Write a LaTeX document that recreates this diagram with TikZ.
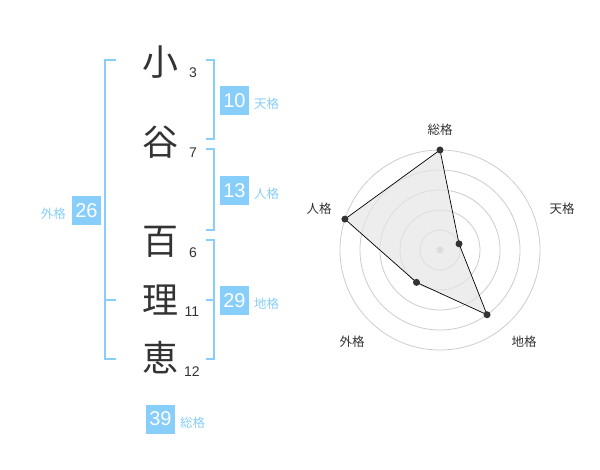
\documentclass[tikz,border=0pt]{standalone}
\usepackage{fontspec}
\newfontfamily\jp{Noto Sans CJK JP}
\newfontfamily\lat{Liberation Sans}
\definecolor{kblue}{HTML}{87CEFA}
\definecolor{ktext}{HTML}{333333}
\definecolor{kgrid}{HTML}{CCCCCC}
\begin{document}
\begin{tikzpicture}[x=1pt,y=-1pt,
  kanji/.style={inner sep=0pt,text=ktext,font=\jp\fontsize{36}{36}\selectfont},
  stroke/.style={inner sep=0pt,text=ktext,font=\lat\fontsize{14}{14}\selectfont},
  valbox/.style={fill=kblue,text=white,minimum width=29pt,minimum height=29pt,inner sep=0pt,font=\lat\fontsize{20}{20}\selectfont},
  kaku/.style={inner sep=0pt,text=kblue,font=\jp\fontsize{12.5}{12.5}\selectfont},
  brk/.style={draw=kblue,line width=2pt},
  rlabel/.style={inner sep=0pt,text=ktext,font=\jp\fontsize{12.5}{12.5}\selectfont},
  gridc/.style={draw=kgrid,line width=0.8pt},
  pt/.style={circle,fill=ktext,inner sep=0pt,minimum size=7pt}
]
\useasboundingbox (0,0) rectangle (600,470);
% characters
\node[kanji] (c1) at (160,62) {小};
\node[kanji] (c2) at (160,142) {谷};
\node[kanji] (c3) at (160,242) {百};
\node[kanji] (c4) at (160,300) {理};
\node[kanji] (c5) at (160,358) {恵};
\node[stroke] (s1) at (193,73) {3};
\node[stroke] (s2) at (193,153) {7};
\node[stroke] (s3) at (193,253) {6};
\node[stroke] (s4) at (192,312) {11};
\node[stroke] (s5) at (192,372) {12};
% brackets
\draw[brk] (116,60) -- (105,60) -- (105,359) -- (116,359);
\draw[brk] (105,300) -- (116,300);
\draw[brk] (206,60) -- (214,60) -- (214,139) -- (206,139);
\draw[brk] (206,149) -- (214,149) -- (214,230) -- (206,230);
\draw[brk] (206,240) -- (214,240) -- (214,359) -- (206,359);
\draw[brk] (206,300) -- (214,300);
% values
\node[valbox] (v1) at (234.5,100.5) {10};
\node[kaku,anchor=west] (k1) at (254,104) {天格};
\node[valbox] (v2) at (234.5,190.5) {13};
\node[kaku,anchor=west] (k2) at (254,194) {人格};
\node[valbox] (v3) at (234.5,300.5) {29};
\node[kaku,anchor=west] (k3) at (254,304) {地格};
\node[valbox] (v4) at (86.5,210.5) {26};
\node[kaku,anchor=east] (k4) at (66,214) {外格};
\node[valbox] (v5) at (160.5,419) {39};
\node[kaku,anchor=west] (k5) at (180,423) {総格};
% radar
\coordinate (O) at (440,250);
\foreach \r in {20,40,60,80,100} \draw[gridc] (O) circle (\r);
\node[circle,fill=kgrid,inner sep=0pt,minimum size=7pt] (ctr) at (O) {};
\path (O) ++(0,-100) coordinate (pS);
\path (O) ++({20*cos(18)},{-20*sin(18)}) coordinate (pT);
\path (O) ++({80*cos(-54)},{-80*sin(-54)}) coordinate (pC);
\path (O) ++({40*cos(-126)},{-40*sin(-126)}) coordinate (pG);
\path (O) ++({100*cos(162)},{-100*sin(162)}) coordinate (pJ);
\fill[black!10,opacity=0.7] (pS) -- (pT) -- (pC) -- (pG) -- (pJ) -- cycle;
\draw[black,line width=0.7pt] (pS) -- (pT) -- (pC) -- (pG) -- (pJ) -- cycle;
\foreach \p in {pS,pT,pC,pG,pJ} \node[pt] at (\p) {};
\node[rlabel] (r1) at (440,130) {総格};
\node[rlabel] (r2) at (562,209) {天格};
\node[rlabel] (r3) at (319,209) {人格};
\node[rlabel] (r4) at (352,342) {外格};
\node[rlabel] (r5) at (524,342) {地格};
\end{tikzpicture}
\end{document}
